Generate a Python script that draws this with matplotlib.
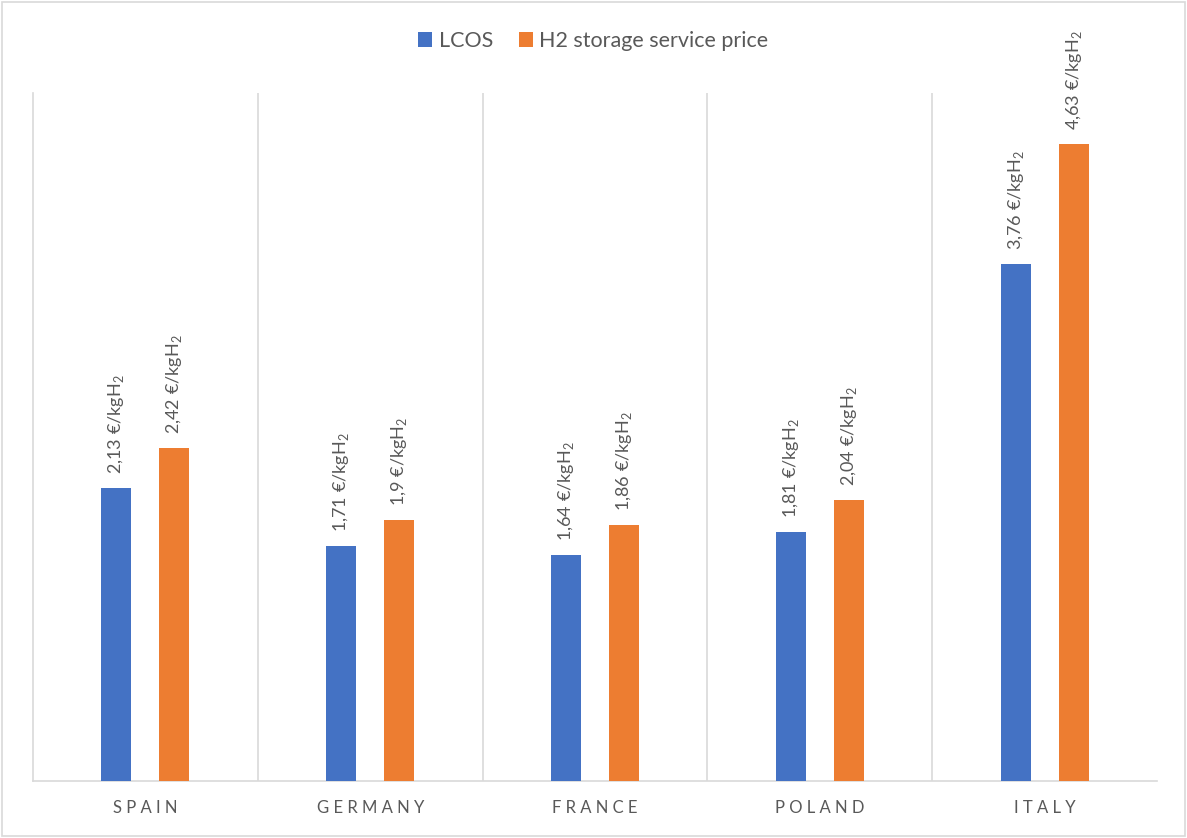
import numpy as np
import matplotlib.pyplot as plt
from matplotlib.patches import Rectangle

plt.rcParams['font.family'] = ['Lato', 'DejaVu Sans']
plt.rcParams['mathtext.fontset'] = 'custom'
plt.rcParams['mathtext.rm'] = 'Lato'

# Data
countries = ['SPAIN', 'GERMANY', 'FRANCE', 'POLAND', 'ITALY']
lcos = [2.13, 1.71, 1.64, 1.81, 3.76]
service_price = [2.42, 1.90, 1.86, 2.04, 4.63]
lcos_labels = ['2,13', '1,71', '1,64', '1,81', '3,76']
price_labels = ['2,42', '1,9', '1,86', '2,04', '4,63']

blue = '#4472C4'
orange = '#ED7D31'
text_grey = '#595959'

fig = plt.figure(figsize=(11.87, 8.38), dpi=100)
fig.patches.append(Rectangle((0.002, 0.002), 0.996, 0.996, transform=fig.transFigure,
                             fill=False, edgecolor='#D9D9D9', linewidth=1.2))
ax = fig.add_axes([33 / 1187, 1 - 781 / 838, (1157 - 33) / 1187, (781 - 93) / 838])

x = np.arange(len(countries))
w = 0.133
off = 0.129
ax.bar(x - off, lcos, w, color=blue, label='LCOS', zorder=3)
ax.bar(x + off, service_price, w, color=orange, label='H2 storage service price', zorder=3)

for i in range(len(countries)):
    ax.annotate(lcos_labels[i] + ' €/kgH$_2$', (x[i] - off, lcos[i]), xytext=(0, 10),
                textcoords='offset points', rotation=90, ha='center', va='bottom',
                color=text_grey, fontsize=13)
    ax.annotate(price_labels[i] + ' €/kgH$_2$', (x[i] + off, service_price[i]), xytext=(0, 10),
                textcoords='offset points', rotation=90, ha='center', va='bottom',
                color=text_grey, fontsize=13)

ax.set_xlim(-0.5, len(countries) - 0.5)
ax.set_ylim(0, 5)
for b in np.arange(0.5, len(countries) - 0.5, 1):
    ax.axvline(b, color='#D9D9D9', linewidth=1.2, zorder=1)
ax.set_yticks([])
ax.set_xticks(x)
ax.set_xticklabels([' '.join(c) for c in countries], color=text_grey, fontsize=12)
ax.tick_params(axis='x', length=0, pad=14)
for s in ['top', 'right']:
    ax.spines[s].set_visible(False)
ax.spines['left'].set_color('#D9D9D9')
ax.spines['bottom'].set_color('#D9D9D9')
ax.spines['left'].set_linewidth(1.2)
ax.spines['bottom'].set_linewidth(1.2)

fig.legend(loc='center', bbox_to_anchor=(0.5, 1 - 41 / 838), ncol=2, frameon=False,
           fontsize=15.5, labelcolor=text_grey, handlelength=0.65, handleheight=0.65,
           handletextpad=0.3, columnspacing=1.2)

fig.savefig('out.png', dpi=100)
